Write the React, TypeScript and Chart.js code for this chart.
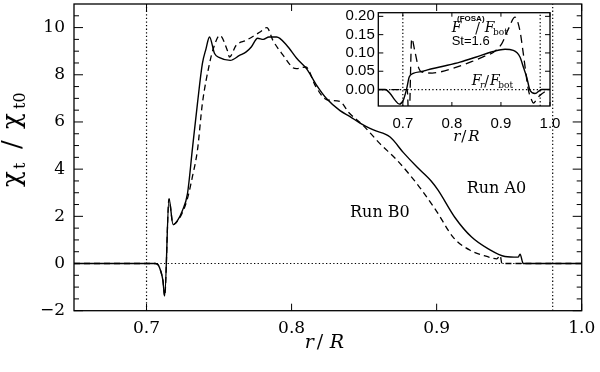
import React, { useEffect, useRef } from "react";
import { Chart, registerables } from "chart.js";
Chart.register(...registerables);

// ---------- Main panel data (r/R vs chi_t/chi_t0) ----------
const runA0R = [0.65, 0.7, 0.706, 0.708, 0.7097, 0.7113, 0.7125, 0.7155, 0.7183, 0.7213, 0.7247, 0.7282, 0.7317, 0.7351, 0.7385, 0.741, 0.7434, 0.7469, 0.7503, 0.7577, 0.7641, 0.7687, 0.7722, 0.7766, 0.7805, 0.7844, 0.7897, 0.7966, 0.8035, 0.8104, 0.8173, 0.8242, 0.8334, 0.8403, 0.8472, 0.8564, 0.8679, 0.8771, 0.8863, 0.8962, 0.9011, 0.9126, 0.9241, 0.9356, 0.9471, 0.9563, 0.9575, 0.9597, 1.0];
const runA0V = [0, 0, 0, -0.06, -0.3, -0.72, -1.38, 2.74, 1.65, 1.82, 2.24, 2.95, 4.9, 6.78, 8.47, 9.1, 9.6, 8.9, 8.73, 8.61, 8.82, 8.97, 9.18, 9.55, 9.5, 9.6, 9.6, 9.25, 8.7, 8.25, 7.55, 6.98, 6.48, 6.23, 5.95, 5.66, 5.36, 4.7, 4.1, 3.5, 3.1, 1.95, 1.12, 0.62, 0.3, 0.27, 0.4, 0.0, 0];
const runB0R = [0.65, 0.7, 0.706, 0.708, 0.7097, 0.7113, 0.7125, 0.7155, 0.7183, 0.7213, 0.7247, 0.7282, 0.7317, 0.7351, 0.7385, 0.7434, 0.746, 0.7505, 0.7559, 0.7572, 0.7618, 0.7687, 0.7779, 0.783, 0.7871, 0.7945, 0.8009, 0.8035, 0.8098, 0.8167, 0.824, 0.8333, 0.8394, 0.8494, 0.8609, 0.8724, 0.8816, 0.8887, 0.9001, 0.9116, 0.9231, 0.9346, 0.9415, 0.9438, 0.945, 1.0];
const runB0V = [0, 0, 0, -0.06, -0.3, -0.72, -1.38, 2.74, 1.65, 1.8, 2.15, 2.75, 3.7, 4.8, 6.78, 8.47, 9.1, 9.67, 9.0, 8.75, 9.25, 9.46, 9.8, 10.0, 9.46, 8.8, 8.3, 8.26, 8.33, 7.5, 6.95, 6.87, 6.4, 5.85, 5.08, 4.4, 3.75, 3.2, 2.2, 1.1, 0.56, 0.3, 0.2, 0.34, 0.0, 0];

// ---------- Inset data (flux ratios) ----------
const insetFrR = [0.65, 0.664, 0.674, 0.684, 0.693, 0.701, 0.708, 0.713, 0.721, 0.7417, 0.7487, 0.78, 0.8165, 0.85, 0.8844, 0.9083, 0.9252, 0.9388, 0.946, 0.9525, 0.9592, 0.9694, 0.9831, 1.0];
const insetFrV = [0, 0, -0.011, -0.029, -0.04, -0.029, 0.003, 0.034, 0.044, 0.05, 0.053, 0.063, 0.075, 0.089, 0.104, 0.11, 0.107, 0.089, 0.06, 0.034, -0.002, -0.011, 0, 0];
const insetFosaR = [0.65, 0.7, 0.706, 0.709, 0.7125, 0.7181, 0.7248, 0.7315, 0.7385, 0.76, 0.7758, 0.8, 0.84, 0.87, 0.885, 0.9015, 0.915, 0.9287, 0.9388, 0.9456, 0.9558, 0.9627, 0.9659, 0.9761, 0.9933, 1.0];
const insetFosaV = [0, 0, 0, 0, -0.1, 0.139, 0.103, 0.062, 0.048, 0.045, 0.048, 0.057, 0.076, 0.093, 0.102, 0.125, 0.165, 0.198, 0.16, 0.098, 0.0, -0.029, -0.037, -0.02, -0.003, 0];

// ---------- Reference lines and ticks ----------
const refLineR = [0.7, 0.98];
const refLineV = [0];
const mainXTicks = [0.7, 0.8, 0.9, 1.0];
const mainYTicks = [-2, 0, 2, 4, 6, 8, 10];
const mainYMinor = [-1.5, -1, -0.5, 0.5, 1, 1.5, 2.5, 3, 3.5, 4.5, 5, 5.5, 6.5, 7, 7.5, 8.5, 9, 9.5, 10.5];
const insetXTicks = [0.7, 0.8, 0.9, 1.0];
const insetYTicks = [0, 0.05, 0.1, 0.15, 0.2];

const SERIF = "'DejaVu Serif', serif";
const SANS = "'Liberation Sans', Arial, sans-serif";

const pts = (r: number[], v: number[]) => r.map((x, i) => ({ x, y: v[i] }));

function refDatasets(xMin: number, xMax: number, yMin: number, yMax: number, dash: number[]) {
  const base = { borderColor: "#000", borderWidth: 1.2, borderDash: dash, pointRadius: 0, fill: false, tension: 0 };
  const ds: any[] = refLineV.map((v) => ({ ...base, data: [{ x: xMin, y: v }, { x: xMax, y: v }] }));
  refLineR.forEach((r) => ds.push({ ...base, data: [{ x: r, y: yMin }, { x: r, y: yMax }] }));
  return ds;
}

function drawPieces(ctx: CanvasRenderingContext2D, x0: number, y0: number, pieces: [string, string, number, number][]) {
  for (const [t, font, dx, dy] of pieces) {
    ctx.font = font;
    ctx.fillText(t, x0 + dx, y0 + dy);
  }
}

const mainDecor = {
  id: "mainDecor",
  afterDatasetsDraw(chart: any) {
    const { ctx, chartArea, scales } = chart;
    const { left, right, top, bottom } = chartArea;
    const x = scales.x, y = scales.y;
    ctx.save();
    ctx.strokeStyle = "#000";
    ctx.lineWidth = 1.3;
    ctx.setLineDash([]);
    ctx.strokeRect(left, top, right - left, bottom - top);
    ctx.lineWidth = 1;
    ctx.beginPath();
    for (const v of mainXTicks) {
      const px = x.getPixelForValue(v);
      ctx.moveTo(px, bottom); ctx.lineTo(px, bottom - 7);
      ctx.moveTo(px, top); ctx.lineTo(px, top + 7);
    }
    for (const v of mainYTicks) {
      const py = y.getPixelForValue(v);
      ctx.moveTo(left, py); ctx.lineTo(left + 9, py);
      ctx.moveTo(right, py); ctx.lineTo(right - 9, py);
    }
    for (const v of mainYMinor) {
      const py = y.getPixelForValue(v);
      ctx.moveTo(left, py); ctx.lineTo(left + 5, py);
      ctx.moveTo(right, py); ctx.lineTo(right - 5, py);
    }
    ctx.stroke();

    ctx.fillStyle = "#000";
    ctx.textBaseline = "alphabetic";
    ctx.textAlign = "left";
    ctx.font = `16px ${SERIF}`;
    ctx.fillText("Run A0", x.getPixelForValue(0.9207), y.getPixelForValue(2.98));
    ctx.fillText("Run B0", x.getPixelForValue(0.8403), y.getPixelForValue(1.96));

    // x title r/R
    const cx = (left + right) / 2;
    drawPieces(ctx, cx - 23, 348, [
      ["r", `italic 19px ${SERIF}`, 0, 0],
      ["/", `19px ${SERIF}`, 12, 0],
      ["R", `italic 19px ${SERIF}`, 25, 0],
    ]);

    // y title chi_t / chi_t0
    ctx.translate(20, 137);
    ctx.rotate(-Math.PI / 2);
    drawPieces(ctx, -50, 0, [
      ["χ", `26px ${SERIF}`, 0, 0],
      ["t", `16px ${SERIF}`, 18, 5],
      ["/", `26px ${SERIF}`, 38, 0],
      ["χ", `26px ${SERIF}`, 58, 0],
      ["t0", `16px ${SERIF}`, 78, 5],
    ]);
    ctx.restore();
  },
};

const insetDecor = {
  id: "insetDecor",
  beforeDraw(chart: any) {
    const { ctx, chartArea } = chart;
    const { left, right, top, bottom } = chartArea;
    ctx.save();
    ctx.fillStyle = "#fff";
    ctx.fillRect(left, top, right - left, bottom - top);
    ctx.restore();
  },
  afterDatasetsDraw(chart: any) {
    const { ctx, chartArea, scales } = chart;
    const { left, right, top, bottom } = chartArea;
    const x = scales.x, y = scales.y;
    ctx.save();
    ctx.strokeStyle = "#000";
    ctx.setLineDash([]);
    ctx.lineWidth = 1.3;
    ctx.strokeRect(left, top, right - left, bottom - top);
    ctx.lineWidth = 1;
    ctx.beginPath();
    for (const v of insetXTicks) {
      const px = x.getPixelForValue(v);
      ctx.moveTo(px, bottom); ctx.lineTo(px, bottom - 4);
      ctx.moveTo(px, top); ctx.lineTo(px, top + 4);
    }
    for (const v of insetYTicks) {
      const py = y.getPixelForValue(v);
      ctx.moveTo(left, py); ctx.lineTo(left + 5, py);
      ctx.moveTo(right, py); ctx.lineTo(right - 5, py);
    }
    ctx.stroke();

    ctx.fillStyle = "#000";
    ctx.textAlign = "left";
    ctx.textBaseline = "alphabetic";
    const ax = x.getPixelForValue(0.7996), ay = y.getPixelForValue(0.157);
    drawPieces(ctx, ax, ay, [
      ["F", `italic 14px ${SERIF}`, 0, 0],
      ["(FOSA)", `bold 8px ${SANS}`, 5.3, -11],
      ["/", `14px ${SERIF}`, 23.5, 1],
      ["F", `italic 14px ${SERIF}`, 33, 0],
      ["bot", `9px ${SERIF}`, 41.3, 3],
      ["St=1.6", `13px ${SANS}`, 0, 13.3],
    ]);
    const bx = x.getPixelForValue(0.8404), by = y.getPixelForValue(0.0117);
    drawPieces(ctx, bx, by, [
      ["F", `italic 14px ${SERIF}`, 0, 0],
      ["r", `italic 9px ${SERIF}`, 8.3, 3],
      ["/", `14px ${SERIF}`, 12.5, 1],
      ["F", `italic 14px ${SERIF}`, 18.3, 0],
      ["bot", `9px ${SERIF}`, 26.5, 3],
    ]);
    const cx = (left + right) / 2;
    drawPieces(ctx, cx - 11, 141, [
      ["r", `italic 15px ${SERIF}`, 0, 0],
      ["/", `15px ${SERIF}`, 8, 0],
      ["R", `italic 15px ${SERIF}`, 15, 0],
    ]);
    ctx.restore();
  },
};

function mainConfig(): any {
  return {
    type: "line",
    data: {
      datasets: [
        { data: pts(runA0R, runA0V), borderColor: "#000", borderWidth: 1.4, pointRadius: 0, fill: false, cubicInterpolationMode: "monotone" },
        { data: pts(runB0R, runB0V), borderColor: "#000", borderWidth: 1.3, borderDash: [6, 4], pointRadius: 0, fill: false, cubicInterpolationMode: "monotone" },
        ...refDatasets(0.65, 1.0, -2, 11, [1.3, 2.3]),
      ],
    },
    options: {
      animation: false,
      responsive: false,
      maintainAspectRatio: false,
      events: [],
      layout: { padding: { top: 4, right: 18.3, left: 0, bottom: 0 } },
      plugins: { legend: { display: false }, tooltip: { enabled: false }, title: { display: false } },
      scales: {
        x: {
          type: "linear", min: 0.65, max: 1.0,
          afterBuildTicks: (s: any) => { s.ticks = mainXTicks.map((v) => ({ value: v })); },
          afterFit: (s: any) => { s.height = 372 - 310.7; s.paddingLeft = 0; s.paddingRight = 0; },
          grid: { display: false, drawTicks: false }, border: { display: false },
          ticks: { font: { family: SERIF, size: 17 }, color: "#000", padding: 8, maxRotation: 0, autoSkip: false, callback: (v: any) => Number(v).toFixed(1) },
        },
        y: {
          type: "linear", min: -2, max: 11,
          afterBuildTicks: (s: any) => { s.ticks = mainYTicks.map((v) => ({ value: v })); },
          afterFit: (s: any) => { s.width = 74; s.paddingTop = 0; s.paddingBottom = 0; },
          grid: { display: false, drawTicks: false }, border: { display: false },
          ticks: { font: { family: SERIF, size: 17 }, color: "#000", padding: 9, autoSkip: false, callback: (v: any) => (v < 0 ? "\u2212" + Math.abs(v) : String(v)) },
        },
      },
    },
    plugins: [mainDecor],
  };
}

function insetConfig(): any {
  return {
    type: "line",
    data: {
      datasets: [
        { data: pts(insetFrR, insetFrV), borderColor: "#000", borderWidth: 1.4, pointRadius: 0, fill: false, cubicInterpolationMode: "monotone", clip: 0 },
        { data: pts(insetFosaR, insetFosaV), borderColor: "#000", borderWidth: 1.3, borderDash: [8, 5], pointRadius: 0, fill: false, cubicInterpolationMode: "monotone", clip: 0 },
        ...refDatasets(0.65, 1.0, -0.045, 0.21, [1.3, 2.3]),
      ],
    },
    options: {
      animation: false,
      responsive: false,
      maintainAspectRatio: false,
      events: [],
      layout: { padding: { top: 12.7, right: 20, left: 0, bottom: 0 } },
      plugins: { legend: { display: false }, tooltip: { enabled: false } },
      scales: {
        x: {
          type: "linear", min: 0.65, max: 1.0,
          afterBuildTicks: (s: any) => { s.ticks = insetXTicks.map((v) => ({ value: v })); },
          afterFit: (s: any) => { s.height = 150 - 106; s.paddingLeft = 0; s.paddingRight = 0; },
          grid: { display: false, drawTicks: false }, border: { display: false },
          ticks: { font: { family: SANS, size: 15 }, color: "#000", padding: 9, maxRotation: 0, autoSkip: false, callback: (v: any) => Number(v).toFixed(1) },
        },
        y: {
          type: "linear", min: -0.045, max: 0.21,
          afterBuildTicks: (s: any) => { s.ticks = insetYTicks.map((v) => ({ value: v })); },
          afterFit: (s: any) => { s.width = 48.3; s.paddingTop = 0; s.paddingBottom = 0; },
          grid: { display: false, drawTicks: false }, border: { display: false },
          ticks: { font: { family: SANS, size: 15 }, color: "#000", padding: 3.5, autoSkip: false, callback: (v: any) => Number(v).toFixed(2) },
        },
      },
    },
    plugins: [insetDecor],
  };
}

export default function App() {
  const mainRef = useRef<HTMLCanvasElement>(null);
  const insetRef = useRef<HTMLCanvasElement>(null);
  useEffect(() => {
    const main = new Chart(mainRef.current as HTMLCanvasElement, mainConfig());
    const inset = new Chart(insetRef.current as HTMLCanvasElement, insetConfig());
    return () => {
      main.destroy();
      inset.destroy();
    };
  }, []);
  return (
    <div style={{ position: "fixed", left: 0, top: 0, width: 600, height: 372, background: "#fff" }}>
      <canvas ref={mainRef} width={600} height={372} style={{ position: "absolute", left: 0, top: 0, width: 600, height: 372 }} />
      <canvas ref={insetRef} width={240} height={150} style={{ position: "absolute", left: 330, top: 0, width: 240, height: 150 }} />
    </div>
  );
}
